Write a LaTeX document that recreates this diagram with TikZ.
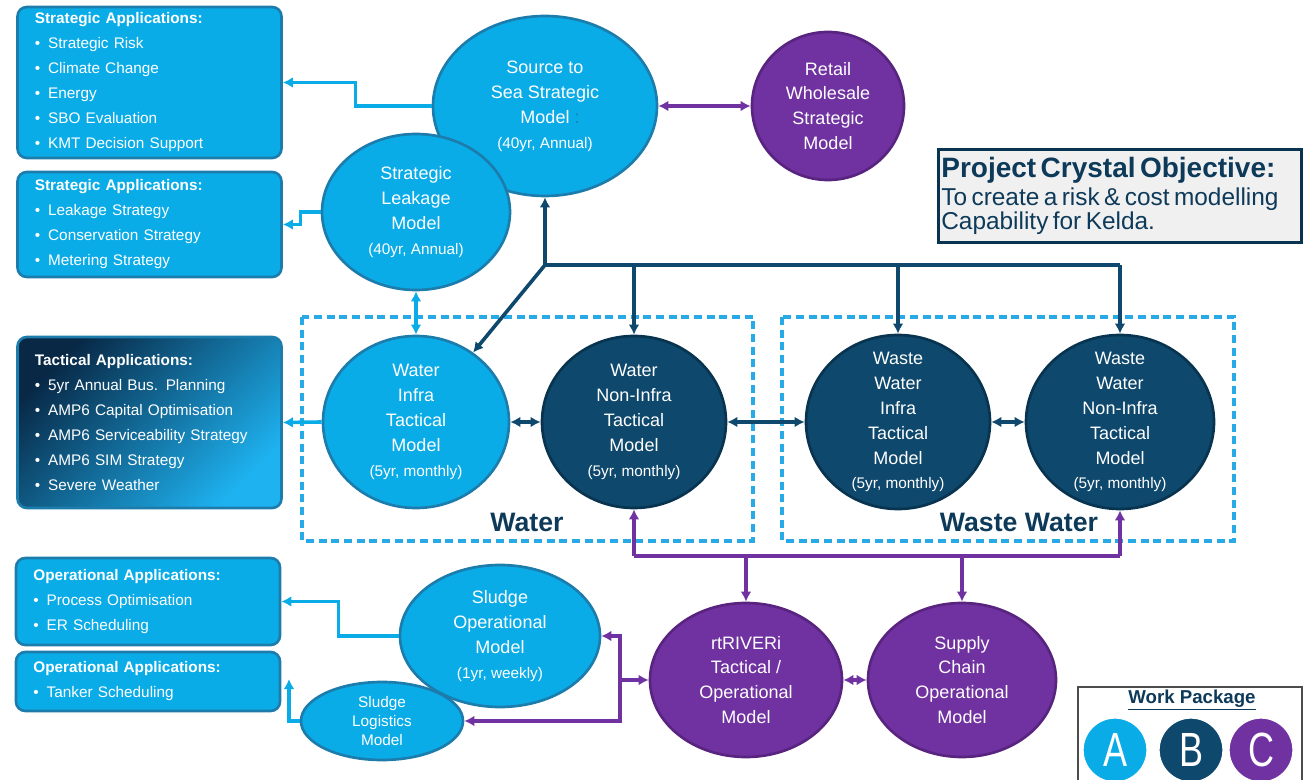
\documentclass[tikz,border=0pt]{standalone}
\usepackage{fontspec}
\setmainfont{Liberation Sans}
\usetikzlibrary{shapes.geometric, arrows.meta}

\definecolor{aqua}{RGB}{10,172,232}
\definecolor{aquadark}{RGB}{28,124,172}
\definecolor{navy}{RGB}{14,72,108}
\definecolor{navydark}{RGB}{9,52,80}
\definecolor{plum}{RGB}{112,50,160}
\definecolor{plumdark}{RGB}{88,36,128}
\definecolor{dashblue}{RGB}{40,170,230}
\definecolor{tacdark}{RGB}{8,40,70}
\definecolor{taclight}{RGB}{30,178,240}
\definecolor{objfill}{RGB}{240,240,240}
\definecolor{labelnavy}{RGB}{14,58,90}

\newcommand{\bul}{\makebox[10pt][l]{\textbullet}}
\newcommand{\bigfont}{\fontsize{13.5}{18.7}\selectfont}
\newcommand{\smallfont}{\fontsize{11.5}{15}\selectfont}

\begin{document}
\begin{tikzpicture}[x=0.75pt, y=-0.75pt,
    >={Latex[length=7.5pt, width=8pt]},
    blob/.style 2 args={ellipse, minimum width=#1*1.5pt, minimum height=#2*1.5pt, inner sep=0pt, line width=2pt},
    ablob/.style 2 args={blob={#1}{#2}, draw=aquadark, fill=aqua},
    nblob/.style 2 args={blob={#1}{#2}, draw=navydark, fill=navy},
    pblob/.style 2 args={blob={#1}{#2}, draw=plumdark, fill=plum},
    btext/.style={text=white, align=center, font=\bigfont},
    appbox/.style={rectangle, rounded corners=7pt, draw=aquadark, fill=aqua, line width=2pt,
        text=white, align=left, text width=172pt, inner xsep=13pt, inner ysep=2pt,
        font=\fontsize{11.5}{18.75}\selectfont},
    boxh/.style={minimum height=#1*0.75pt},
    aline/.style={draw=aqua, line width=2.7pt, ->},
    adbl/.style={aline, <->},
    nline/.style={draw=navy, line width=2.7pt},
    navyarrow/.style={nline, ->},
    ndbl/.style={nline, <->},
    pline/.style={draw=plum, line width=2.7pt},
    parrow/.style={pline, ->},
    pdbl/.style={pline, <->},
    groupbox/.style={draw=dashblue, line width=2.4pt, dash pattern=on 6pt off 3.5pt},
    objbox/.style={rectangle, draw=navydark, line width=2.4pt, fill=objfill, text=labelnavy,
        align=left, text width=268pt, inner xsep=2pt, minimum height=70pt},
    wpdot/.style={circle, minimum size=48pt, inner sep=0pt, text=white, draw=white, line width=1pt,
        font=\fontsize{36}{36}\selectfont}
 ]
\useasboundingbox (0,0) rectangle (1303,780);

% groups
\draw[groupbox] (302,317) rectangle (753,541);
\draw[groupbox] (782,317) rectangle (1234,541);
\node[text=labelnavy, font=\fontsize{20}{20}\bfseries\selectfont] (WLBL) at (527,522) {Water};
\node[text=labelnavy, font=\fontsize{20}{20}\bfseries\selectfont] (WWLBL) at (1019,522) {Waste Water};

% application boxes
\node[appbox, boxh=151] (A1) at (149.5,82.5) {\textbf{Strategic Applications:}\\
    \bul Strategic Risk\\ \bul Climate Change\\ \bul Energy\\ \bul SBO Evaluation\\ \bul KMT Decision Support};
\node[appbox, boxh=105] (A2) at (149.5,224.5) {\textbf{Strategic Applications:}\\
    \bul Leakage Strategy\\ \bul Conservation Strategy\\ \bul Metering Strategy};
\node[appbox, boxh=171, top color=tacdark, bottom color=taclight, shading angle=45] (T1) at (149.5,422.5)
    {\textbf{Tactical Applications:}\\
    \bul 5yr Annual Bus. Planning\\ \bul AMP6 Capital Optimisation\\ \bul AMP6 Serviceability Strategy\\
    \bul AMP6 SIM Strategy\\ \bul Severe Weather};
\node[appbox, boxh=87] (O1) at (148,601.5) {\textbf{Operational Applications:}\\
    \bul Process Optimisation\\ \bul ER Scheduling};
\node[appbox, boxh=59] (O2) at (148,681.5) {\textbf{Operational Applications:}\\
    \bul Tanker Scheduling};

% models
\node[ablob={112}{90}, label={[btext]center:{Source to\\Sea Strategic\\Model\rlap{\ {\color{aquadark}:}}\\{\smallfont (40yr, Annual)}}}] (S2S) at (545,106) {};
\node[pblob={76}{74}, label={[btext]center:{Retail\\Wholesale\\Strategic\\Model}}] (RW) at (828,106) {};
\node[ablob={94}{78}, label={[btext]center:{Strategic\\Leakage\\Model\\{\smallfont (40yr, Annual)}}}] (SL) at (416,212) {};
\node[ablob={93}{86}, label={[btext]center:{Water\\Infra\\Tactical\\Model\\{\smallfont (5yr, monthly)}}}] (WI) at (416,422) {};
\node[nblob={92}{86}, label={[btext]center:{Water\\Non-Infra\\Tactical\\Model\\{\smallfont (5yr, monthly)}}}] (WN) at (634,422) {};
\node[nblob={92}{87}, label={[btext]center:{Waste\\Water\\Infra\\Tactical\\Model\\{\smallfont (5yr, monthly)}}}] (WWI) at (898,422) {};
\node[nblob={94}{87}, label={[btext]center:{Waste\\Water\\Non-Infra\\Tactical\\Model\\{\smallfont (5yr, monthly)}}}] (WWN) at (1120,422) {};
\node[ablob={100}{71}, label={[btext]center:{Sludge\\Operational\\Model\\{\smallfont (1yr, weekly)}}}] (SO) at (500,636) {};
\node[ablob={81}{39}, label={[btext, font=\fontsize{11.5}{14.5}\selectfont]center:{Sludge\\Logistics\\Model}}] (SLG) at (382,721) {};
\node[pblob={96}{77}, label={[btext]center:{rtRIVERi\\Tactical /\\Operational\\Model}}] (RT) at (746,680) {};
\node[pblob={94}{77}, label={[btext]center:{Supply\\Chain\\Operational\\Model}}] (SC) at (962,680) {};

% objective
\node[objbox] (OBJ) at (1120,196) {{\fontsize{21}{23}\bfseries\selectfont Project Crystal Objective:}\\[2pt]
    {\fontsize{18.3}{19.5}\selectfont To create a risk \& cost modelling\\Capability for Kelda.}};

% work package
\draw[draw=black!70, line width=0.8pt, fill=white] (1078,687) rectangle (1302,790);
\node[text=labelnavy, font=\fontsize{14}{14}\bfseries\selectfont] (WPT) at (1192,700) {\underline{Work Package}};
\node[wpdot, fill=aqua] (WA) at (1115,750) {\scalebox{0.75}[1]{A}};
\node[wpdot, fill=navy] (WB) at (1191,750) {\scalebox{0.75}[1]{B}};
\node[wpdot, fill=plum] (WC) at (1261,750) {\scalebox{0.75}[1]{C}};

% light blue links
\draw[aline] (S2S.west) -- ++(-76,0) |- (A1.east);
\draw[aline] (SL.west) -- ++(-20,0) |- (A2.east);
\draw[aline] (WI.west) -- (T1.east);
\draw[aline] (SO.west) -- ++(-60,0) |- (O1.east);
\coordinate (logtip) at (289,679);
\draw[aline] (SLG.west) -| (logtip);
\draw[adbl] (SL.south) -- (WI.north);

% navy links
\coordinate (hub) at (545,265);
\draw[nline] (hub) -- (hub -| WWN.north);
\draw[navyarrow] (hub) -- (S2S.south);
\draw[navyarrow] (hub) -- (WI);
\draw[navyarrow] (hub -| WN.north) -- (WN.north);
\draw[navyarrow] (hub -| WWI.north) -- (WWI.north);
\draw[navyarrow] (hub -| WWN.north) -- (WWN.north);
\draw[ndbl] (WI.east) -- (WN.west);
\draw[ndbl] (WN.east) -- (WWI.west);
\draw[ndbl] (WWI.east) -- (WWN.west);

% purple links
\coordinate (pbus) at (635,556);
\coordinate (pjoin) at (620,680);
\draw[pdbl] (S2S.east) -- (RW.west);
\draw[pline] (pbus -| WN.south) -- (pbus -| WWN.south);
\draw[parrow] (pbus -| WN.south) -- (WN.south);
\draw[parrow] (pbus -| WWN.south) -- (WWN.south);
\draw[parrow] (pbus -| RT.north) -- (RT.north);
\draw[parrow] (pbus -| SC.north) -- (SC.north);
\draw[pdbl] (RT.east) -- (SC.west);
\draw[parrow] (pjoin) -- (RT.west);
\draw[parrow] (pjoin) |- (SO.east);
\draw[parrow] (pjoin) |- (SLG.east);
\end{tikzpicture}
\end{document}
